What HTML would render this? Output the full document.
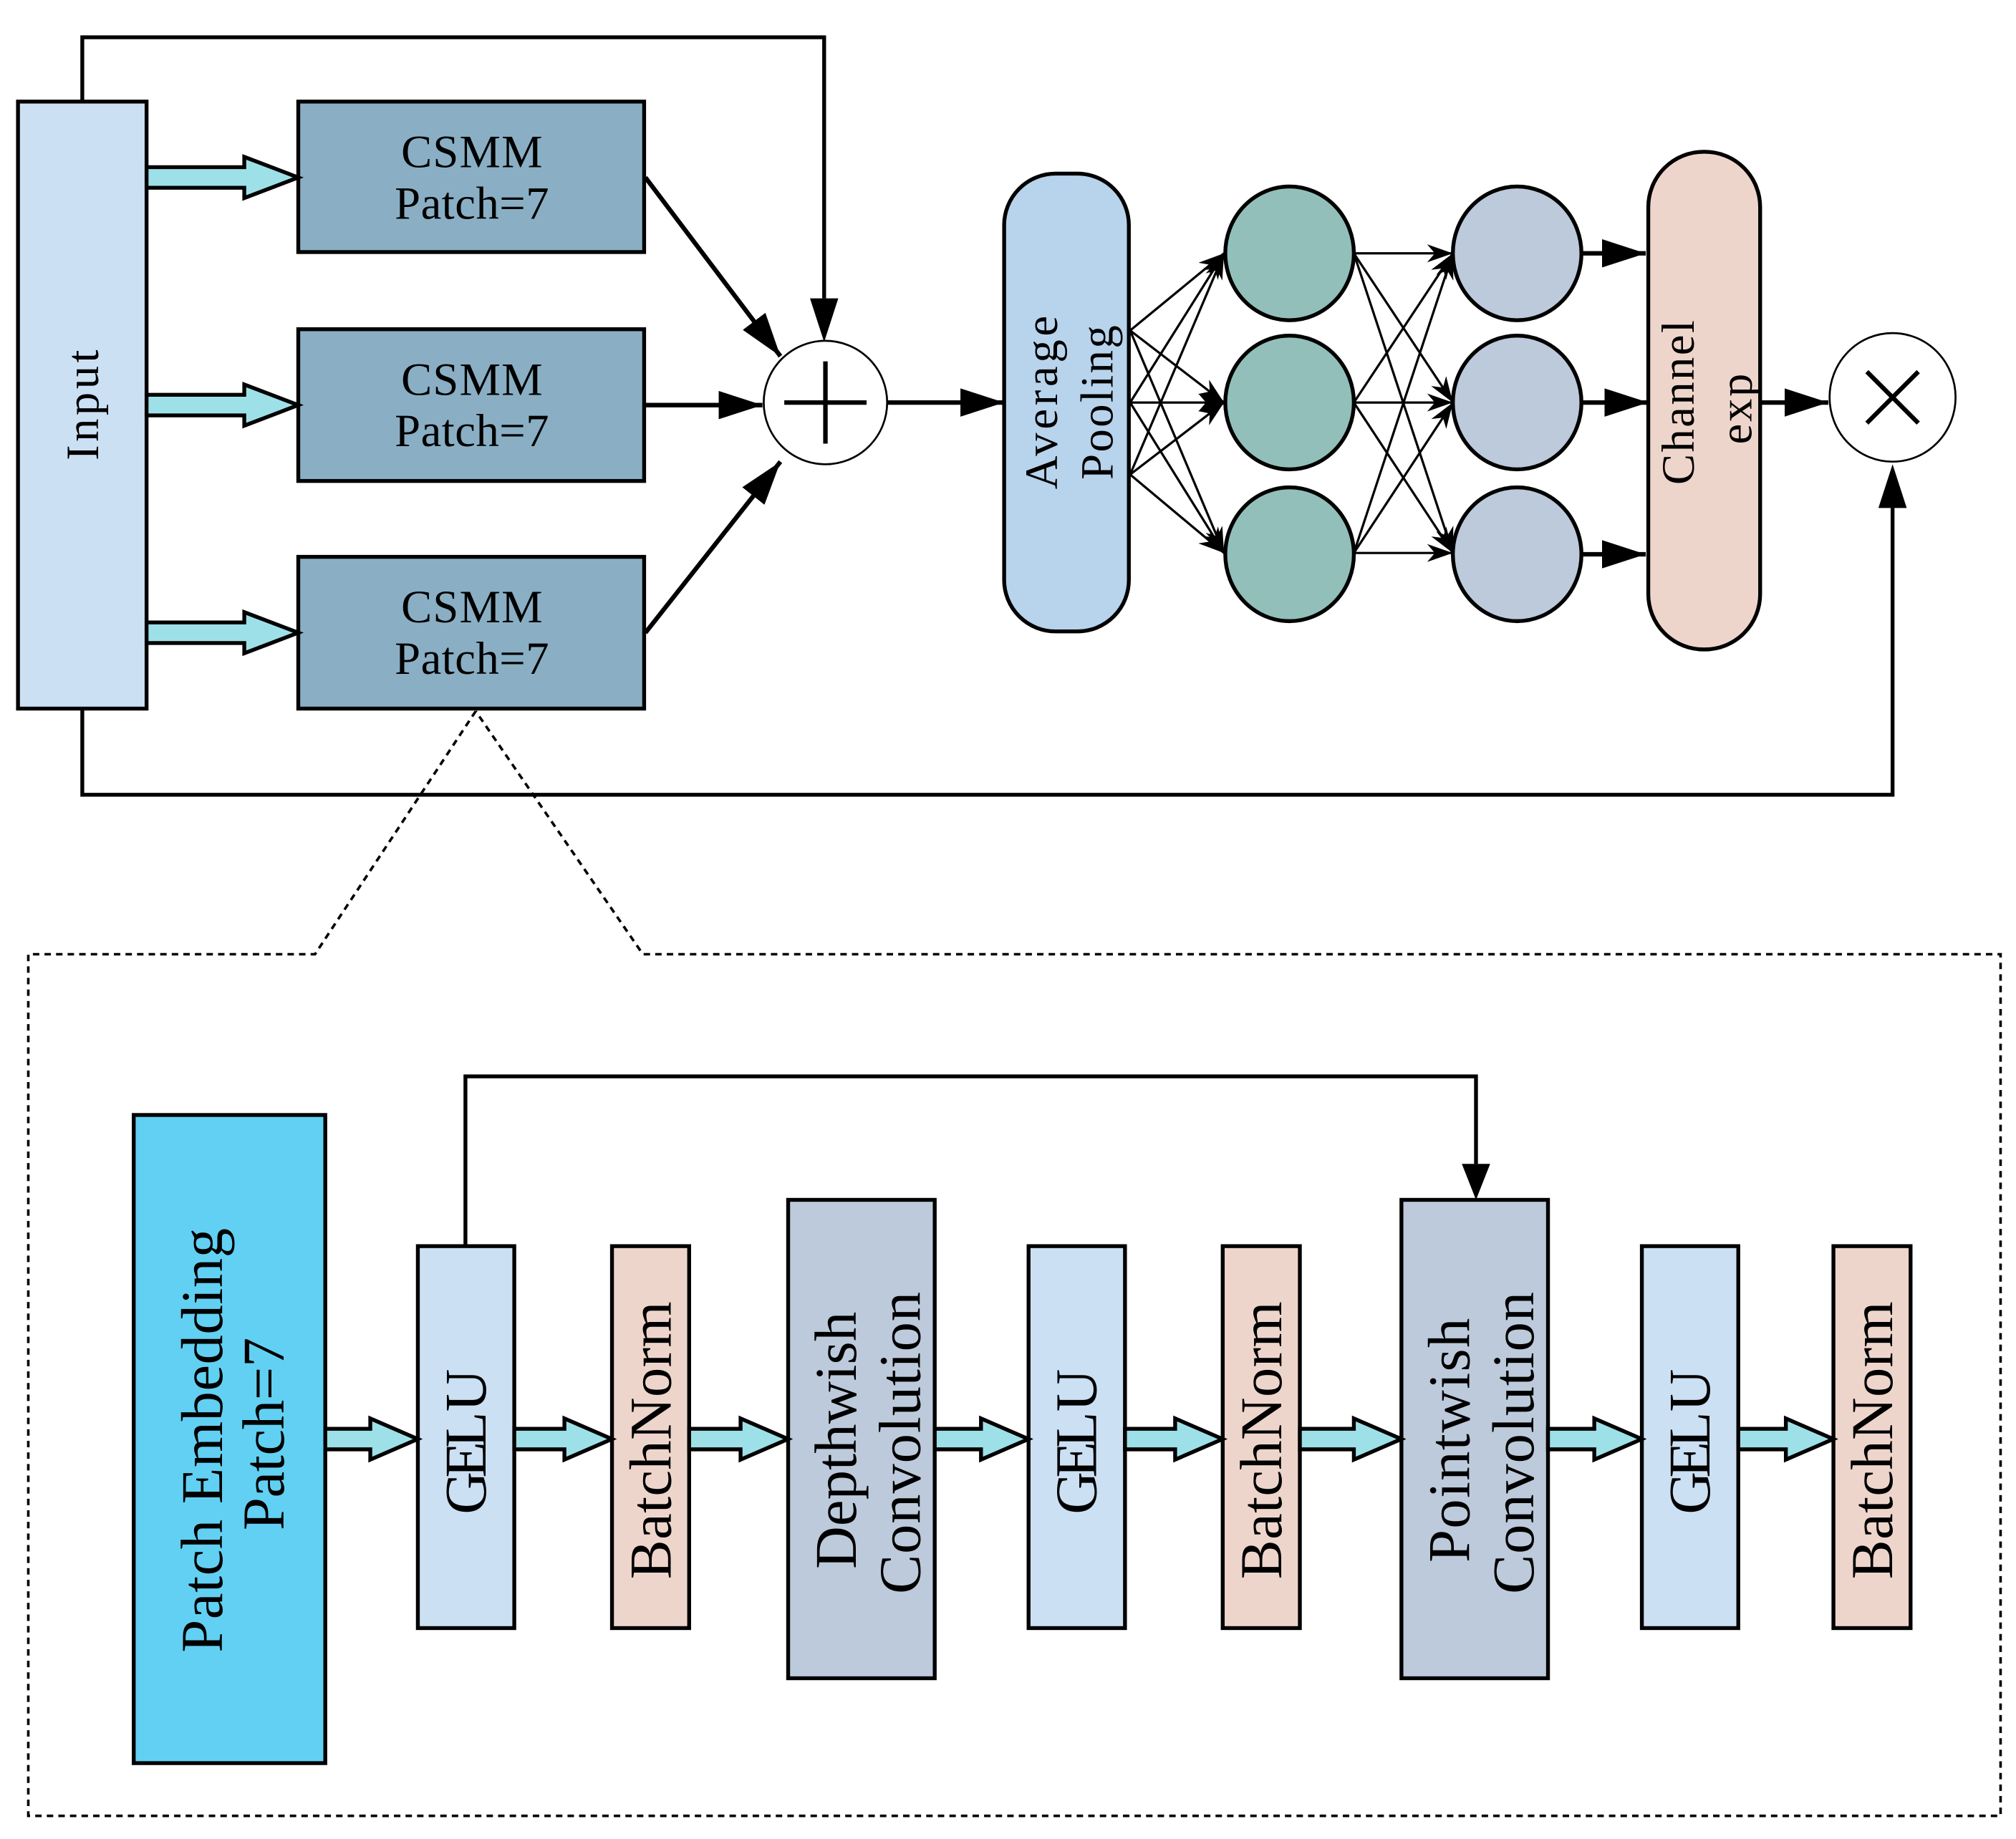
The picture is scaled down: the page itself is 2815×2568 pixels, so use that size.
<!DOCTYPE html>
<html><head><meta charset="utf-8"><style>html,body{margin:0;padding:0;background:#fff}svg{display:block}</style></head>
<body>
<svg width="2815" height="2568" viewBox="0 0 1568 1430" preserveAspectRatio="none" xmlns="http://www.w3.org/2000/svg" font-family="Liberation Serif, serif">
<defs>
<marker id="a" viewBox="0 0 10 10" refX="10" refY="5" markerWidth="34" markerHeight="22" markerUnits="userSpaceOnUse" orient="auto" preserveAspectRatio="none"><path d="M0,0 L10,5 L0,10 z" fill="#000"/></marker>
<marker id="s" viewBox="0 0 10 10" refX="10" refY="5" markerWidth="20" markerHeight="14" markerUnits="userSpaceOnUse" orient="auto" preserveAspectRatio="none"><path d="M0,0 L10,5 L0,10 L3,5 z" fill="#000"/></marker>
</defs>
<g stroke="#000" stroke-width="3" fill="none">
<polyline points="64,79 64,29 641,29 641,232"/>
<polyline points="64,551 64,618 1472,618 1472,395"/>
<polyline stroke-width="2" stroke-dasharray="5,4" points="370,553 245,742 22,742 22,1412 1556,1412 1556,742 500,742 370,553"/>
<polyline points="362,969 362,837 1148,837 1148,905"/>
</g>
<path d="M630,232 L652,232 L641,266 z" fill="#000"/>
<path d="M1461,395 L1483,395 L1472,361 z" fill="#000"/>
<path d="M1137,905 L1159,905 L1148,933 z" fill="#000"/>
<rect x="14" y="79" width="100" height="472" fill="#cce0f4" stroke="#000" stroke-width="3"/>
<text x="64" y="315" transform="rotate(-90 64 315)" text-anchor="middle" dominant-baseline="central" font-size="36" textLength="86">Input</text>
<g fill="#8aafc4" stroke="#000" stroke-width="3">
<rect x="232" y="79" width="269" height="117"/>
<rect x="232" y="256" width="269" height="118"/>
<rect x="232" y="433" width="269" height="118"/>
</g>
<g font-size="36" text-anchor="middle">
<text x="367" y="130" textLength="110">CSMM</text><text x="367" y="170" textLength="120">Patch=7</text>
<text x="367" y="307" textLength="110">CSMM</text><text x="367" y="347" textLength="120">Patch=7</text>
<text x="367" y="484" textLength="110">CSMM</text><text x="367" y="524" textLength="120">Patch=7</text>
</g>
<g fill="#9ee0e8" stroke="#000" stroke-width="3">
<polygon points="114,130 190,130 190,122 232,138 190,154 190,146 114,146"/>
<polygon points="114,307 190,307 190,299 232,315 190,331 190,323 114,323"/>
<polygon points="114,484 190,484 190,476 232,492 190,508 190,500 114,500"/>
</g>
<g stroke="#000" stroke-width="3.5">
<line x1="502" y1="138" x2="607" y2="277" marker-end="url(#a)"/>
<line x1="502" y1="315" x2="593" y2="315" marker-end="url(#a)"/>
<line x1="502" y1="492" x2="607" y2="359" marker-end="url(#a)"/>
<line x1="690" y1="313" x2="781" y2="313" marker-end="url(#a)"/>
<line x1="1369" y1="313" x2="1422" y2="313" marker-end="url(#a)"/>
<line x1="1230" y1="197" x2="1280" y2="197" marker-end="url(#a)"/>
<line x1="1230" y1="313" x2="1282" y2="313" marker-end="url(#a)"/>
<line x1="1230" y1="431" x2="1280" y2="431" marker-end="url(#a)"/>
</g>
<ellipse cx="642" cy="313" rx="48" ry="48" fill="#fff" stroke="#000" stroke-width="1.5"/>
<path d="M610,313 H674 M642,281 V345" stroke="#000" stroke-width="3.5"/>
<ellipse cx="1472" cy="309" rx="49" ry="50" fill="#fff" stroke="#000" stroke-width="1.5"/>
<path d="M1452,289 L1492,329 M1492,289 L1452,329" stroke="#000" stroke-width="3.5"/>
<rect x="781" y="135" width="97" height="356" rx="40" fill="#b8d3ec" stroke="#000" stroke-width="3"/>
<text x="810" y="313" transform="rotate(-90 810 313)" text-anchor="middle" dominant-baseline="central" font-size="36" textLength="135">Average</text>
<text x="853" y="313" transform="rotate(-90 853 313)" text-anchor="middle" dominant-baseline="central" font-size="36" textLength="120">Pooling</text>
<g stroke="#000" stroke-width="1.8">
<line x1="879" y1="257" x2="952" y2="197" marker-end="url(#s)"/>
<line x1="879" y1="257" x2="952" y2="313" marker-end="url(#s)"/>
<line x1="879" y1="257" x2="952" y2="430" marker-end="url(#s)"/>
<line x1="879" y1="313" x2="952" y2="197" marker-end="url(#s)"/>
<line x1="879" y1="313" x2="952" y2="313" marker-end="url(#s)"/>
<line x1="879" y1="313" x2="952" y2="430" marker-end="url(#s)"/>
<line x1="879" y1="369" x2="952" y2="197" marker-end="url(#s)"/>
<line x1="879" y1="369" x2="952" y2="313" marker-end="url(#s)"/>
<line x1="879" y1="369" x2="952" y2="430" marker-end="url(#s)"/>
<line x1="1053" y1="197" x2="1130" y2="197" marker-end="url(#s)"/>
<line x1="1053" y1="197" x2="1130" y2="313" marker-end="url(#s)"/>
<line x1="1053" y1="197" x2="1130" y2="430" marker-end="url(#s)"/>
<line x1="1053" y1="313" x2="1130" y2="197" marker-end="url(#s)"/>
<line x1="1053" y1="313" x2="1130" y2="313" marker-end="url(#s)"/>
<line x1="1053" y1="313" x2="1130" y2="430" marker-end="url(#s)"/>
<line x1="1053" y1="430" x2="1130" y2="197" marker-end="url(#s)"/>
<line x1="1053" y1="430" x2="1130" y2="313" marker-end="url(#s)"/>
<line x1="1053" y1="430" x2="1130" y2="430" marker-end="url(#s)"/>
</g>
<g stroke="#000" stroke-width="3">
<ellipse cx="1003" cy="197" rx="50" ry="52" fill="#92bfba"/>
<ellipse cx="1003" cy="313" rx="50" ry="52" fill="#92bfba"/>
<ellipse cx="1003" cy="431" rx="50" ry="52" fill="#92bfba"/>
<ellipse cx="1180" cy="197" rx="50" ry="52" fill="#bccadb"/>
<ellipse cx="1180" cy="313" rx="50" ry="52" fill="#bccadb"/>
<ellipse cx="1180" cy="431" rx="50" ry="52" fill="#bccadb"/>
</g>
<rect x="1282" y="118" width="87" height="387" rx="43" fill="#eed5cb" stroke="#000" stroke-width="3"/>
<text x="1305" y="313" transform="rotate(-90 1305 313)" text-anchor="middle" dominant-baseline="central" font-size="36" textLength="128">Channel</text>
<text x="1350" y="318" transform="rotate(-90 1350 318)" text-anchor="middle" dominant-baseline="central" font-size="36" textLength="55">exp</text>
<g stroke="#000" stroke-width="3">
<rect x="104" y="867" width="149" height="504" fill="#62d0f2"/>
<rect x="325" y="969" width="75" height="297" fill="#cce0f4"/>
<rect x="476" y="969" width="60" height="297" fill="#eed5cb"/>
<rect x="613" y="933" width="114" height="372" fill="#bccadb"/>
<rect x="800" y="969" width="75" height="297" fill="#cce0f4"/>
<rect x="951" y="969" width="60" height="297" fill="#eed5cb"/>
<rect x="1090" y="933" width="114" height="372" fill="#bccadb"/>
<rect x="1277" y="969" width="75" height="297" fill="#cce0f4"/>
<rect x="1426" y="969" width="60" height="297" fill="#eed5cb"/>
</g>
<g fill="#9ee0e8" stroke="#000" stroke-width="3">
<polygon points="253,1111 288,1111 288,1103 325,1119 288,1135 288,1127 253,1127"/>
<polygon points="400,1111 439,1111 439,1103 476,1119 439,1135 439,1127 400,1127"/>
<polygon points="536,1111 576,1111 576,1103 613,1119 576,1135 576,1127 536,1127"/>
<polygon points="727,1111 763,1111 763,1103 800,1119 763,1135 763,1127 727,1127"/>
<polygon points="875,1111 914,1111 914,1103 951,1119 914,1135 914,1127 875,1127"/>
<polygon points="1011,1111 1053,1111 1053,1103 1090,1119 1053,1135 1053,1127 1011,1127"/>
<polygon points="1204,1111 1240,1111 1240,1103 1277,1119 1240,1135 1240,1127 1204,1127"/>
<polygon points="1352,1111 1389,1111 1389,1103 1426,1119 1389,1135 1389,1127 1352,1127"/>
</g>
<g font-size="46" text-anchor="middle" dominant-baseline="central">
<text x="157" y="1120" transform="rotate(-90 157 1120)" textLength="330">Patch Embedding</text>
<text x="205" y="1115" transform="rotate(-90 205 1115)" textLength="150">Patch=7</text>
<text x="362" y="1121" transform="rotate(-90 362 1121)" textLength="113">GEL U</text>
<text x="506" y="1120" transform="rotate(-90 506 1120)" textLength="216">BatchNorm</text>
<text x="650" y="1120" transform="rotate(-90 650 1120)" textLength="200">Depthwish</text>
<text x="700" y="1122" transform="rotate(-90 700 1122)" textLength="235">Convolution</text>
<text x="837" y="1121" transform="rotate(-90 837 1121)" textLength="113">GEL U</text>
<text x="981" y="1120" transform="rotate(-90 981 1120)" textLength="216">BatchNorm</text>
<text x="1127" y="1120" transform="rotate(-90 1127 1120)" textLength="190">Pointwish</text>
<text x="1177" y="1122" transform="rotate(-90 1177 1122)" textLength="235">Convolution</text>
<text x="1314" y="1121" transform="rotate(-90 1314 1121)" textLength="113">GEL U</text>
<text x="1456" y="1120" transform="rotate(-90 1456 1120)" textLength="216">BatchNorm</text>
</g>
</svg>
</body></html>
